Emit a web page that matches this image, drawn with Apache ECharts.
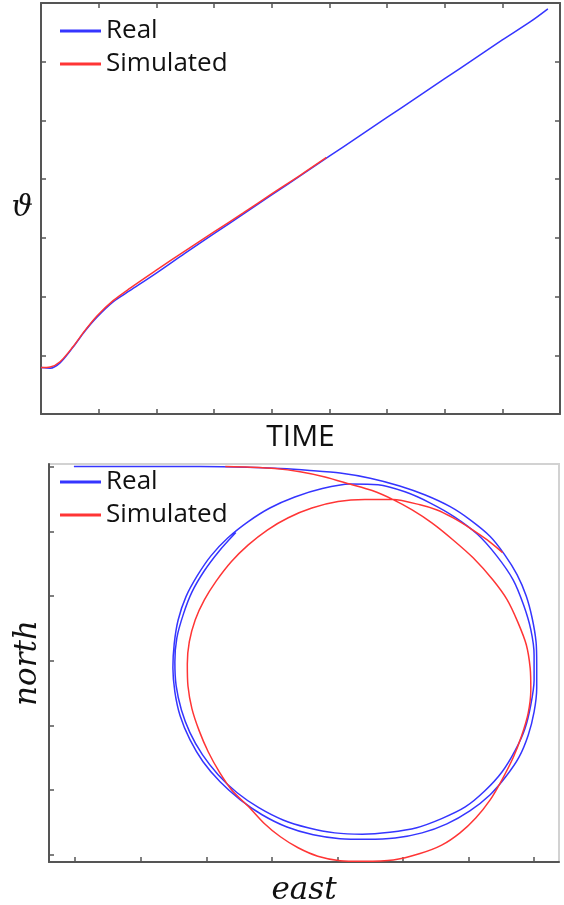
<!DOCTYPE html>
<html lang="en">
<head>
    <meta charset="UTF-8">
    <title>Real vs Simulated</title>
    <script src="https://cdn.jsdelivr.net/npm/echarts@6.0.0/dist/echarts.min.js"></script>
    <style type="text/css">
        * { margin: 0; padding: 0; }
        html, body { background: #fff; }
    </style>
</head>
<body>
<div id="main" style="width: 564px;height:905px;"></div>
<script type="text/javascript">
    // top plot: heading angle against time (axis units = tick steps)
    var timeReal = [0, 0.16, 0.33, 0.55, 0.76, 0.97, 1.25, 1.54, 2.0, 2.5, 3.0, 3.5, 4.0, 4.5, 5.0, 5.5, 6.0, 6.5, 7.0, 7.5, 8.0, 8.5, 8.79];
    var thetaReal = [0.79, 0.78, 0.87, 1.13, 1.41, 1.65, 1.91, 2.10, 2.40, 2.74, 3.07, 3.40, 3.73, 4.06, 4.39, 4.72, 5.05, 5.38, 5.71, 6.04, 6.37, 6.69, 6.90];
    var timeSim = [0, 0.16, 0.33, 0.55, 0.76, 0.97, 1.25, 1.54, 2.0, 2.5, 3.0, 3.5, 4.0, 4.5, 4.95];
    var thetaSim = [0.79, 0.80, 0.89, 1.14, 1.42, 1.67, 1.93, 2.14, 2.45, 2.78, 3.10, 3.42, 3.75, 4.07, 4.37];

    // bottom plot: trajectory, north against east
    var eastReal = [-0.02, 1.14, 1.91, 2.62, 3.13, 3.58, 4.04, 4.50, 4.95, 5.34, 5.72, 6.02, 6.33, 6.55, 6.74, 6.88, 6.97, 7.03, 7.04, 7.04,
        7.00, 6.91, 6.77, 6.57, 6.33, 6.02, 5.67, 5.29, 4.88, 4.45, 4.04, 3.63, 3.23, 2.85, 2.52, 2.21, 1.95, 1.75, 1.60, 1.52,
        1.49, 1.51, 1.57, 1.69, 1.86, 2.07, 2.33, 2.64, 2.97, 3.35, 3.77, 4.19, 4.62, 5.03, 5.41, 5.79, 6.14, 6.43, 6.68, 6.84,
        6.95, 7.00, 7.00, 6.95, 6.86, 6.71, 6.51, 6.25, 5.95, 5.59, 5.21, 4.80, 4.38, 3.96, 3.55, 3.17, 2.80, 2.47, 2.18, 1.94,
        1.75, 1.62, 1.54, 1.52, 1.55, 1.65, 1.78, 1.97, 2.20, 2.45];
    var northReal = [6.00, 6.00, 6.00, 5.99, 5.97, 5.94, 5.90, 5.82, 5.70, 5.56, 5.38, 5.18, 4.92, 4.64, 4.33, 4.00, 3.66, 3.29, 2.94, 2.58,
        2.21, 1.85, 1.51, 1.21, 0.93, 0.68, 0.48, 0.34, 0.26, 0.24, 0.25, 0.31, 0.43, 0.62, 0.85, 1.13, 1.44, 1.78, 2.15, 2.52,
        2.89, 3.26, 3.63, 3.99, 4.31, 4.62, 4.90, 5.15, 5.36, 5.53, 5.66, 5.73, 5.72, 5.61, 5.44, 5.22, 4.95, 4.62, 4.25, 3.86,
        3.48, 3.09, 2.70, 2.32, 1.95, 1.61, 1.28, 0.99, 0.74, 0.56, 0.42, 0.35, 0.32, 0.34, 0.42, 0.54, 0.73, 0.96, 1.24, 1.55,
        1.89, 2.24, 2.61, 2.98, 3.35, 3.72, 4.06, 4.39, 4.70, 4.98];
    var eastSim = [2.29, 2.67, 3.05, 3.43, 3.81, 4.19, 4.53, 4.85, 5.14, 5.44, 5.76, 6.07, 6.37, 6.59, 6.75, 6.88, 6.94, 6.95, 6.91, 6.81,
        6.68, 6.51, 6.33, 6.11, 5.87, 5.59, 5.26, 4.85, 4.39, 4.04, 3.70, 3.40, 3.13, 2.88, 2.65, 2.39, 2.20, 2.03, 1.89, 1.78,
        1.72, 1.71, 1.74, 1.83, 1.97, 2.15, 2.38, 2.64, 2.93, 3.25, 3.61, 4.01, 4.42, 4.85, 5.26, 5.52, 5.76, 6.02, 6.28, 6.52];
    var northSim = [6.00, 5.99, 5.97, 5.92, 5.84, 5.73, 5.63, 5.49, 5.33, 5.13, 4.87, 4.59, 4.25, 3.94, 3.60, 3.25, 2.89, 2.55, 2.19, 1.84,
        1.50, 1.16, 0.85, 0.57, 0.34, 0.15, 0.02, -0.08, -0.10, -0.09, -0.02, 0.11, 0.28, 0.49, 0.74, 1.00, 1.28, 1.59, 1.92, 2.26,
        2.61, 2.95, 3.29, 3.63, 3.94, 4.23, 4.53, 4.79, 5.02, 5.21, 5.36, 5.46, 5.49, 5.49, 5.41, 5.33, 5.21, 5.05, 4.87, 4.67];

    var eastTicks = [0, 1, 2, 3, 4, 5, 6, 7];
    var northTicks = [0, 1, 2, 3, 4, 5, 6];

    function pairs(xs, ys) {
        return xs.map(function (x, i) { return [x, ys[i]]; });
    }

    var blue = '#3535ff';
    var red = '#ff3535';
    var axisColor = '#555';
    var legendText = {fontFamily: 'Open Sans', fontSize: 26, color: '#111', lineHeight: 28};
    var mathName = {fontFamily: 'DejaVu Serif', fontStyle: 'italic', fontSize: 31, color: '#111'};

    function axisBase(extra) {
        var a = {
            type: 'value',
            axisLine: {onZero: false, lineStyle: {color: axisColor, width: 2}},
            axisTick: {inside: true, length: 5, lineStyle: {color: axisColor, width: 1.5}},
            axisLabel: {show: false},
            splitLine: {show: false}
        };
        for (var k in extra) a[k] = extra[k];
        return a;
    }

    var myChart = echarts.init(document.getElementById('main'));
    var option = {
        backgroundColor: '#fff',
        animation: false,
        legend: [
            {data: ['Real', 'Simulated'], orient: 'vertical', left: 60, top: 17, padding: 0,
                icon: 'rect', itemWidth: 41, itemHeight: 3, itemGap: 5, selectedMode: false, textStyle: legendText},
            {data: ['Real', 'Simulated'], orient: 'vertical', left: 60, top: 468, padding: 0,
                icon: 'rect', itemWidth: 41, itemHeight: 3, itemGap: 5, selectedMode: false, textStyle: legendText}
        ],
        grid: [
            {left: 41, right: 4, top: 3, bottom: 491, outerBoundsMode: 'none'},
            {left: 49, right: 5, top: 464, bottom: 43, outerBoundsMode: 'none',
                show: true, borderColor: '#d2d2d2', borderWidth: 2}
        ],
        xAxis: [
            axisBase({gridIndex: 0, min: 0, max: 9, interval: 1, name: 'TIME', nameLocation: 'middle', nameGap: 8,
                nameTextStyle: {fontFamily: 'Open Sans', fontSize: 30, color: '#111'}}),
            axisBase({gridIndex: 0, position: 'top', min: 0, max: 9, interval: 1}),
            axisBase({gridIndex: 1, min: -0.4, max: 7.38, name: 'east', nameLocation: 'middle', nameGap: 13,
                nameTextStyle: mathName,
                axisTick: {inside: true, length: 5, customValues: eastTicks, lineStyle: {color: axisColor, width: 1.5}}})
        ],
        yAxis: [
            axisBase({gridIndex: 0, min: 0, max: 7, interval: 1, name: 'ϑ', nameLocation: 'middle', nameRotate: 0, nameGap: 8,
                nameTextStyle: {fontFamily: 'DejaVu Serif', fontStyle: 'italic', fontSize: 30, color: '#111'}}),
            axisBase({gridIndex: 0, position: 'right', min: 0, max: 7, interval: 1}),
            axisBase({gridIndex: 1, min: -0.11, max: 6.04, name: 'north', nameLocation: 'middle', nameGap: 6,
                nameTextStyle: mathName,
                axisTick: {inside: true, length: 5, customValues: northTicks, lineStyle: {color: axisColor, width: 1.5}}})
        ],
        series: [
            {name: 'Real', type: 'line', xAxisIndex: 0, yAxisIndex: 0, data: pairs(timeReal, thetaReal),
                smooth: 0.3, showSymbol: false, lineStyle: {color: blue, width: 1.5}, itemStyle: {color: blue}},
            {name: 'Simulated', type: 'line', xAxisIndex: 0, yAxisIndex: 0, data: pairs(timeSim, thetaSim),
                smooth: 0.3, showSymbol: false, lineStyle: {color: red, width: 1.5}, itemStyle: {color: red}},
            {name: 'Real', type: 'line', xAxisIndex: 2, yAxisIndex: 2, data: pairs(eastReal, northReal),
                smooth: 0.25, showSymbol: false, lineStyle: {color: blue, width: 1.5}, itemStyle: {color: blue}},
            {name: 'Simulated', type: 'line', xAxisIndex: 2, yAxisIndex: 2, data: pairs(eastSim, northSim),
                smooth: 0.25, showSymbol: false, lineStyle: {color: red, width: 1.5}, itemStyle: {color: red}}
        ]
    };
    myChart.setOption(option);
</script>
</body>
</html>
